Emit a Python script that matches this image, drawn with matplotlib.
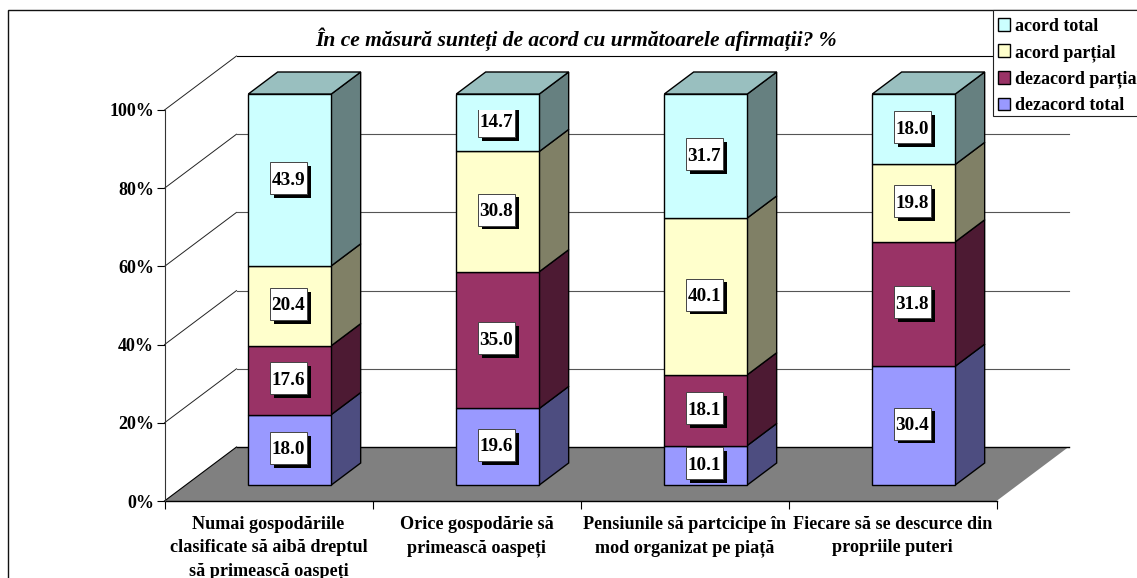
import matplotlib
matplotlib.use('Agg')
import matplotlib.pyplot as plt
from matplotlib.patches import Polygon, Rectangle, Patch

# Values
categories = ['Numai gospodăriile\nclasificate să aibă dreptul\nsă primească oaspeți',
              'Orice gospodărie să\nprimească oaspeți',
              'Pensiunile să partcicipe în\nmod organizat pe piață',
              'Fiecare să se descurce din\npropriile puteri']
dezacord_total = [18.0, 19.6, 10.1, 30.4]
dezacord_partial = [17.6, 35.0, 18.1, 31.8]
acord_partial = [20.4, 30.8, 40.1, 19.8]
acord_total = [43.9, 14.7, 31.7, 18.0]
series = [dezacord_total, dezacord_partial, acord_partial, acord_total]
series_names = ['dezacord total', 'dezacord parțial', 'acord parțial', 'acord total']
yticks = [0, 20, 40, 60, 80, 100]

# Colours: front face, side face, top face
front = ['#9999FF', '#993366', '#FFFFCC', '#CCFFFF']
side = ['#4D4D80', '#4D1A33', '#808066', '#668080']
top_face = '#99BFBF'

W, H = 1137, 578
px_x = 208.0   # pixels for one category
px_y = 3.91    # pixels for one percent
wall_dx, wall_dy = 72 / px_x, 54 / px_y      # depth of the 3d box
bar_w = 83 / px_x
d_front, d_back = 16 / 54, 38 / 54           # where the bars sit in the depth

plt.rcParams['font.family'] = ['Liberation Serif', 'DejaVu Serif']
plt.rcParams['font.weight'] = 'bold'
fig = plt.figure(figsize=(W / 100, H / 100), dpi=100)
ax = fig.add_axes([164.5 / W, 1 - 501 / H, 832 / W, 391 / H])
ax.set_xlim(0, 4)
ax.set_ylim(0, 100)
ax.patch.set_visible(False)


def depth(x, y, d):
    return (x + wall_dx * d, y + wall_dy * d)


# Outer border, runs off the image on the right and at the bottom
fig.add_artist(Rectangle((8 / W, -0.1), 1.2, 1.1 - 10 / H, transform=fig.transFigure,
                         fill=False, ec='#111111', lw=1.0))

# Floor
floor = [depth(0, 0, 0), depth(4, 0, 0), depth(4, 0, 1), depth(0, 0, 1)]
ax.add_patch(Polygon(floor, fc='#808080', ec='none', zorder=1, clip_on=False))
ax.plot([depth(0, 0, 1)[0], depth(4, 0, 1)[0]], [depth(0, 0, 1)[1]] * 2, color='black', lw=1.0, zorder=1.5, clip_on=False)
ax.plot([0, 4], [0, 0], color='black', lw=1.0, zorder=1.5, clip_on=False)
ax.plot([0, depth(0, 0, 1)[0]], [0, depth(0, 0, 1)[1]], color='black', lw=0.8, zorder=1.5, clip_on=False)

# Gridlines on left wall and back wall
for t in yticks[1:]:
    bx, by = depth(0, t, 1)
    ex, ey = depth(4, t, 1)
    ax.plot([0, bx], [t, by], color='#222222', lw=0.7, zorder=2, clip_on=False)
    ax.plot([bx, ex], [by, ey], color='black' if t == 100 else '#555555', lw=0.8, zorder=2, clip_on=False)

# Stacked bars as 3d boxes
for i in range(len(categories)):
    total = sum(s[i] for s in series)
    x0 = i + 0.5 - bar_w / 2
    x1 = x0 + bar_w
    base = 0
    for j, s in enumerate(series):
        h = s[i] / total * 100
        y0, y1 = base, base + h
        z = 3 + j
        a = depth(x0, y0, d_front)
        b = depth(x1, y0, d_front)
        c = depth(x1, y1, d_front)
        e = depth(x0, y1, d_front)
        ax.add_patch(Polygon([b, depth(x1, y0, d_back), depth(x1, y1, d_back), c],
                             fc=side[j], ec='black', lw=1.0, zorder=z, clip_on=False))
        ax.add_patch(Polygon([a, b, c, e], fc=front[j], ec='black', lw=1.0, zorder=z, clip_on=False))
        if j == len(series) - 1:
            ax.add_patch(Polygon([e, c, depth(x1, y1, d_back), depth(x0, y1, d_back)],
                                 fc=top_face, ec='black', lw=1.0, zorder=z, clip_on=False))

        # Value label with a black drop shadow
        cx, cy = depth(x0 + bar_w / 2, (y0 + y1) / 2, d_front)
        cx -= 1.5 / px_x
        cy += 1.8 / px_y
        bw, bh = 37 / px_x, 32 / px_y
        ax.add_patch(Rectangle((cx - bw / 2 + 3.7 / px_x, cy - bh / 2 - 3.7 / px_y), bw, bh,
                               fc='black', ec='none', zorder=10))
        ax.add_patch(Rectangle((cx - bw / 2, cy - bh / 2), bw, bh,
                               fc='white', ec='#444444', lw=0.7, zorder=11))
        ax.text(cx, cy, f'{s[i]:.1f}', ha='center', va='center_baseline', fontsize=13.8, zorder=12)
        base = y1

# Axes
for name in ['top', 'right']:
    ax.spines[name].set_visible(False)
ax.spines['left'].set_linewidth(0.8)
ax.spines['left'].set_color('#333333')
ax.spines['bottom'].set_visible(False)
ax.set_yticks(yticks)
ax.set_yticklabels([f'{t}%' for t in yticks], fontsize=13, va='center_baseline')
ax.set_xticks(range(5))
ax.set_xticklabels([])
ax.set_xticks([i + 0.5 for i in range(4)], minor=True)
ax.set_xticklabels(categories, minor=True, fontsize=13.1, linespacing=1.46)
ax.tick_params(axis='x', which='minor', length=0, pad=11)
ax.tick_params(axis='both', which='major', length=6, width=0.8, pad=1.5)

fig.text(576.5 / W, 1 - 39 / H, 'În ce măsură sunteți de acord cu următoarele afirmații? %',
         ha='center', va='center', fontsize=15.5, style='italic')

# Legend frame runs off the right edge, and so does the long label
fig.add_artist(Rectangle((992.5 / W, 1 - 116 / H), 0.2, 106 / H, transform=fig.transFigure,
                         fc='white', ec='#222222', lw=0.8, zorder=19))
handles = [Patch(fc=front[j], ec='black', lw=1.0) for j in range(3, -1, -1)]
leg = fig.legend(handles, series_names[::-1], loc='upper left',
                 bbox_to_anchor=(992.5 / W, 1 - 12.5 / H), fontsize=13, frameon=False,
                 borderaxespad=0, borderpad=0.3,
                 handlelength=0.65, handleheight=0.7, handletextpad=0.3, labelspacing=0.5)
leg.set_zorder(20)

fig.savefig('out.png', dpi=100)
